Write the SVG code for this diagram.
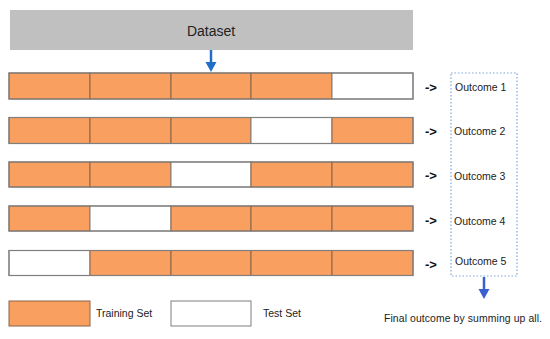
<svg xmlns="http://www.w3.org/2000/svg" width="550" height="339" viewBox="0 0 550 339">
<defs>
<style>
.tr{fill:#f99f60;stroke:#8a6448;stroke-width:1}
.te{fill:#ffffff;stroke:#7f7f7f;stroke-width:1}
.frame{fill:none;stroke:#7f7f7f;stroke-width:1.2}
.t{font-family:"Liberation Sans",Arial,sans-serif;fill:#222}
.arr{font-family:"Liberation Sans",Arial,sans-serif;font-weight:bold;font-size:13px;fill:#111}
</style>
</defs>
<rect width="550" height="339" fill="#ffffff"/>
<g id="dataset">
<rect x="10" y="10" width="403" height="40" fill="#c0c0c0"/>
<text class="t" x="211" y="36" font-size="14" text-anchor="middle">Dataset</text>
</g>
<g id="fold1">
<rect class="tr" x="9" y="73" width="81" height="26"/>
<rect class="tr" x="90" y="73" width="81" height="26"/>
<rect class="tr" x="171" y="73" width="80" height="26"/>
<rect class="tr" x="251" y="73" width="81" height="26"/>
<rect class="te" x="332" y="73" width="81" height="26"/>
<rect class="frame" x="9" y="73" width="404" height="26"/>
</g>
<g id="fold2">
<rect class="tr" x="9" y="117.5" width="81" height="26"/>
<rect class="tr" x="90" y="117.5" width="81" height="26"/>
<rect class="tr" x="171" y="117.5" width="80" height="26"/>
<rect class="te" x="251" y="117.5" width="81" height="26"/>
<rect class="tr" x="332" y="117.5" width="81" height="26"/>
<rect class="frame" x="9" y="117.5" width="404" height="26"/>
</g>
<g id="fold3">
<rect class="tr" x="9" y="162" width="81" height="25"/>
<rect class="tr" x="90" y="162" width="81" height="25"/>
<rect class="te" x="171" y="162" width="80" height="25"/>
<rect class="tr" x="251" y="162" width="81" height="25"/>
<rect class="tr" x="332" y="162" width="81" height="25"/>
<rect class="frame" x="9" y="162" width="404" height="25"/>
</g>
<g id="fold4">
<rect class="tr" x="9" y="206" width="81" height="25"/>
<rect class="te" x="90" y="206" width="81" height="25"/>
<rect class="tr" x="171" y="206" width="80" height="25"/>
<rect class="tr" x="251" y="206" width="81" height="25"/>
<rect class="tr" x="332" y="206" width="81" height="25"/>
<rect class="frame" x="9" y="206" width="404" height="25"/>
</g>
<g id="fold5">
<rect class="te" x="9" y="250.5" width="81" height="25"/>
<rect class="tr" x="90" y="250.5" width="81" height="25"/>
<rect class="tr" x="171" y="250.5" width="80" height="25"/>
<rect class="tr" x="251" y="250.5" width="81" height="25"/>
<rect class="tr" x="332" y="250.5" width="81" height="25"/>
<rect class="frame" x="9" y="250.5" width="404" height="25"/>
</g>
<g id="outcomes">
<rect x="451" y="73" width="66" height="203" fill="none" stroke="#7ea6d6" stroke-width="1.2" stroke-dasharray="1.5,2"/>
<text class="t" x="455" y="91" font-size="10.5">Outcome 1</text>
<text class="t" x="454" y="135" font-size="10.5">Outcome 2</text>
<text class="t" x="454" y="180" font-size="10.5">Outcome 3</text>
<text class="t" x="454" y="225" font-size="10.5">Outcome 4</text>
<text class="t" x="455" y="265" font-size="10.5">Outcome 5</text>
</g>
<g id="legend-training">
<rect class="tr" x="9" y="301" width="81" height="25"/>
<text class="t" x="96" y="317" font-size="10.5">Training Set</text>
</g>
<g id="legend-test">
<rect class="te" x="171" y="301" width="80" height="25"/>
<text class="t" x="263" y="317" font-size="10.5">Test Set</text>
</g>
<g id="final">
<text class="t" x="384" y="322" font-size="10.4" textLength="158">Final outcome by summing up all.</text>
</g>
<g id="connectors">
<line x1="211" y1="50" x2="211" y2="63" stroke="#1f6fc8" stroke-width="2.5"/>
<polygon points="205.5,62 216.5,62 211,72" fill="#1f6fc8"/>
<line x1="484" y1="277" x2="484" y2="290" stroke="#3a5fcf" stroke-width="2.5"/>
<polygon points="478.5,289 489.5,289 484,299" fill="#3a5fcf"/>
<text class="arr" x="425" y="92">-&gt;</text>
<text class="arr" x="425" y="136">-&gt;</text>
<text class="arr" x="425" y="180">-&gt;</text>
<text class="arr" x="425" y="225">-&gt;</text>
<text class="arr" x="425" y="269">-&gt;</text>
</g>
</svg>
